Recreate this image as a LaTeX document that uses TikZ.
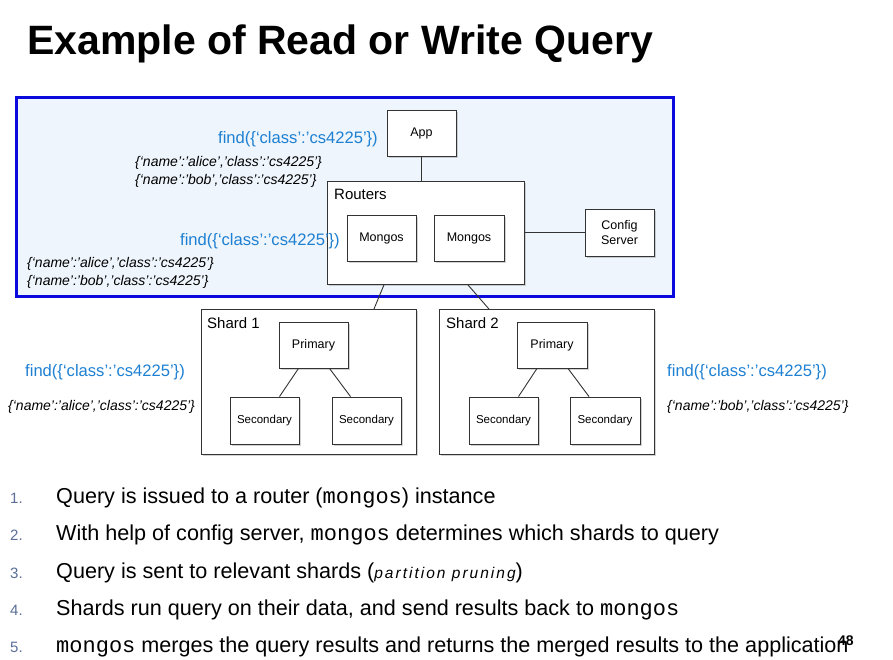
\documentclass[tikz,border=0pt]{standalone}
\usepackage{fontspec}
\setmainfont{Liberation Sans}
\setmonofont{Liberation Mono}
\newfontfamily\spacedfont[LetterSpace=13]{Liberation Sans}
\usetikzlibrary{shadows}
\definecolor{findblue}{RGB}{30,128,210}
\definecolor{panelfill}{RGB}{238,245,252}
\definecolor{panelborder}{RGB}{10,10,220}
\definecolor{numgray}{RGB}{90,110,150}
\tikzset{
  box/.style={draw=black!80, line width=0.9pt, fill=white, inner sep=0pt,
    font=\fontsize{12.5}{15}\selectfont,
    drop shadow={opacity=0.35, shadow xshift=1.5pt, shadow yshift=-1.5pt}},
  secbox/.style={box, minimum height=47pt, font=\fontsize{11.5}{14}\selectfont},
  lbl/.style={inner sep=0pt, font=\fontsize{12.5}{15}\selectfont},
  grouplbl/.style={inner sep=0pt, anchor=north west, font=\fontsize{15}{17}\selectfont},
  findtxt/.style={inner sep=0pt, text=findblue, font=\fontsize{16.6}{18}\selectfont},
  datatxt/.style={inner sep=0pt, anchor=base west, font=\fontsize{14}{16}\selectfont\itshape},
  link/.style={draw=black!80, line width=0.9pt},
  numtxt/.style={inner sep=0pt, anchor=base west, text=numgray, font=\fontsize{15}{17}\selectfont},
  itemtxt/.style={inner sep=0pt, anchor=base west, font=\fontsize{21.6}{24}\selectfont}
}
\newcommand{\code}[1]{{\ttfamily\fontsize{22}{24}\selectfont #1}}
\begin{document}
\begin{tikzpicture}[x=1pt,y=-1pt]
\useasboundingbox (0,0) rectangle (893,659);
% title
\node[inner sep=0pt, anchor=base west, font=\bfseries\fontsize{41}{44}\selectfont] (title) at (27,54) {Example of Read or Write Query};
% panel
\node[draw=panelborder, line width=3pt, fill=panelfill, minimum width=657pt, minimum height=199pt, inner sep=0pt, anchor=north west] (panel) at (15,96) {};
% top nodes
\node[box, minimum width=69pt, minimum height=46pt] (app) at (421.5,133) {};
\node[lbl] (applbl) at (app.center) {App};
\node[box, minimum width=197pt, minimum height=103pt, anchor=north west] (routers) at (327,181) {};
\node[grouplbl] (routerslbl) at (334,189) {Routers};
\node[box, minimum width=69pt, minimum height=46pt] (m1) at (381.5,238) {Mongos};
\node[box, minimum width=70pt, minimum height=46pt] (m2) at (469,238) {Mongos};
\node[box, minimum width=69pt, minimum height=47pt, align=center] (config) at (619.5,232.5) {Config\\Server};
\draw[link] (app.south) -- (routers.north -| app.south);
\draw[link] (routers.east |- config.west) -- (config.west);
% shards
\node[box, minimum width=215pt, minimum height=145pt, anchor=north west] (shard1) at (201,309) {};
\node[grouplbl] (s1lbl) at (207,317) {Shard 1};
\node[box, minimum width=69pt, minimum height=46pt] (p1) at (313.5,345) {Primary};
\node[secbox, minimum width=69pt] (s1a) at (264.5,420.5) {Secondary};
\node[secbox, minimum width=69pt] (s1b) at (366.5,420.5) {Secondary};
\node[box, minimum width=215pt, minimum height=145pt, anchor=north west] (shard2) at (439,309) {};
\node[grouplbl] (s2lbl) at (446,317) {Shard 2};
\node[box, minimum width=70pt, minimum height=46pt] (p2) at (552,345) {Primary};
\node[secbox, minimum width=69pt] (s2a) at (503.5,420.5) {Secondary};
\node[secbox, minimum width=70pt] (s2b) at (605,420.5) {Secondary};
\draw[link] ([xshift=-15pt]p1.south) -- ([xshift=15pt]s1a.north);
\draw[link] ([xshift=16pt]p1.south) -- ([xshift=-16pt]s1b.north);
\draw[link] ([xshift=-15pt]p2.south) -- ([xshift=15pt]s2a.north);
\draw[link] ([xshift=16pt]p2.south) -- ([xshift=-16pt]s2b.north);
\draw[link] ([xshift=-42pt]routers.south) -- ([xshift=65pt]shard1.north);
\draw[link] ([xshift=42pt]routers.south) -- ([xshift=-58pt]shard2.north);
% labels
\node[findtxt, anchor=base east] (f1) at (378,143) {find(\{‘class’:’cs4225’\})};
\node[datatxt] (d1a) at (135,166) {\{‘name’:’alice’,’class’:’cs4225’\}};
\node[datatxt] (d1b) at (135,184) {\{‘name’:’bob’,’class’:’cs4225’\}};
\node[findtxt, anchor=base east] (f2) at (340,245) {find(\{‘class’:’cs4225’\})};
\node[datatxt] (d2a) at (27,267) {\{‘name’:’alice’,’class’:’cs4225’\}};
\node[datatxt] (d2b) at (27,285) {\{‘name’:’bob’,’class’:’cs4225’\}};
\node[findtxt, anchor=base west] (f3) at (25,376) {find(\{‘class’:’cs4225’\})};
\node[datatxt] (d3) at (8,410) {\{‘name’:’alice’,’class’:’cs4225’\}};
\node[findtxt, anchor=base west] (f4) at (667,376) {find(\{‘class’:’cs4225’\})};
\node[datatxt] (d4) at (667,410) {\{‘name’:’bob’,’class’:’cs4225’\}};
% list
\node[numtxt] (n1) at (10,503) {1.};
\node[itemtxt] (i1) at (56,503) {Query is issued to a router (\code{mongos}) instance};
\node[numtxt] (n2) at (10,540) {2.};
\node[itemtxt] (i2) at (56,540) {With help of config server, \code{mongos} determines which shards to query};
\node[numtxt] (n3) at (10,578) {3.};
\node[itemtxt] (i3) at (56,578) {Query is sent to relevant shards ({\spacedfont\itshape\fontsize{15.5}{17}\selectfont partition pruning})};
\node[numtxt] (n4) at (10,615) {4.};
\node[itemtxt] (i4) at (56,615) {Shards run query on their data, and send results back to \code{mongos}};
\node[numtxt] (n5) at (10,652) {5.};
\node[itemtxt] (i5) at (56,652) {\code{mongos} merges the query results and returns the merged results to the application};
\node[inner sep=0pt, anchor=base west, font=\bfseries\fontsize{14}{16}\selectfont] (pg) at (838,645) {48};
\end{tikzpicture}
\end{document}
